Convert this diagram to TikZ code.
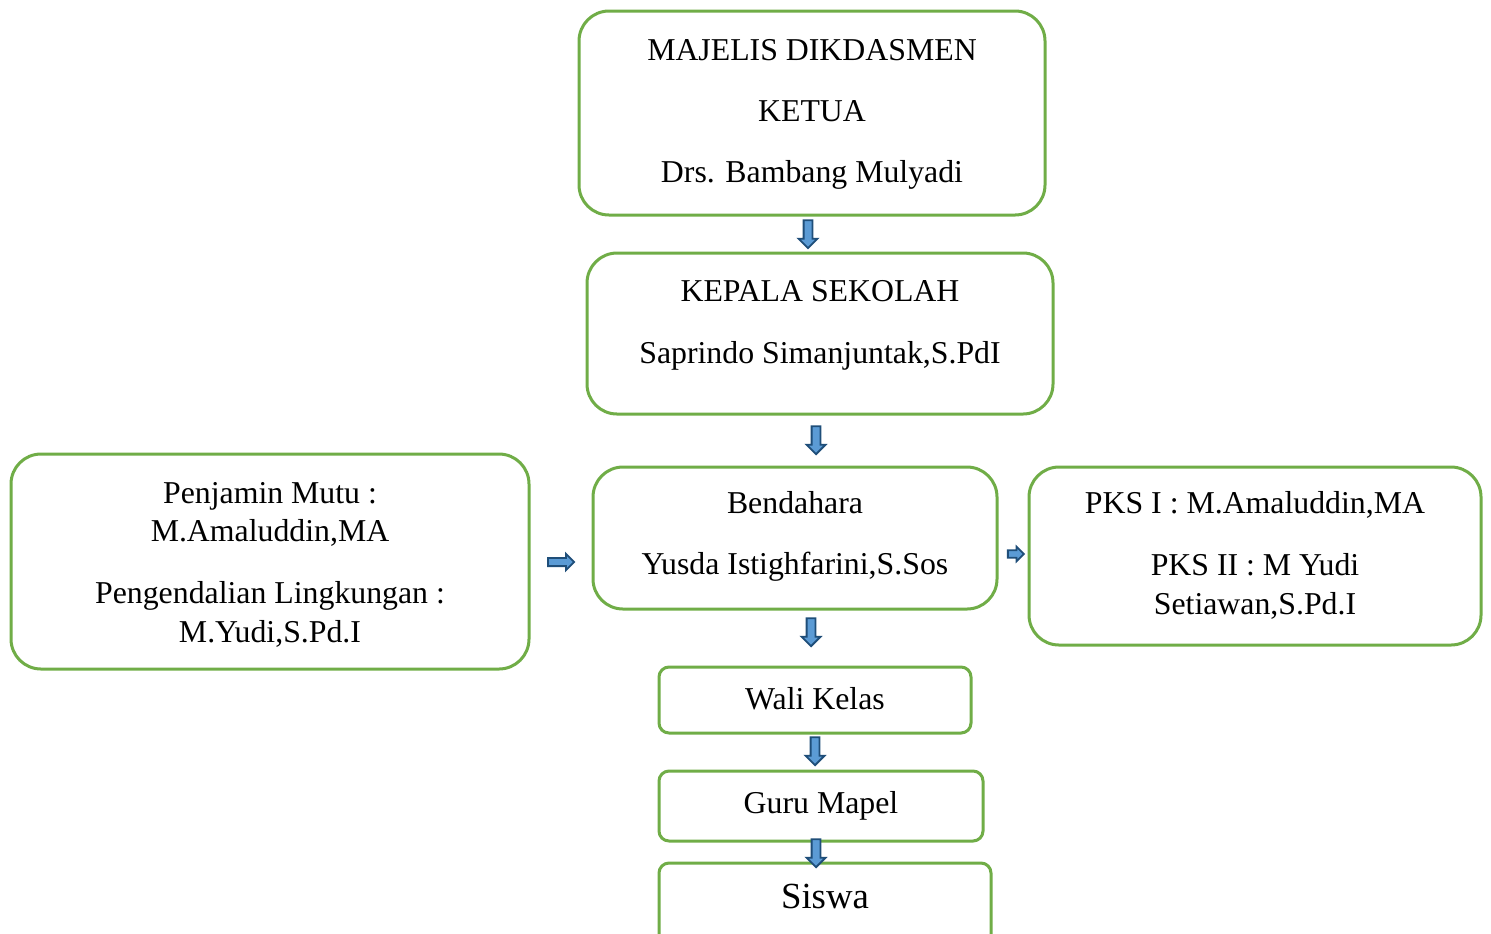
\documentclass[tikz,border=0pt]{standalone}
\usepackage{fontspec}
\setmainfont{Liberation Serif}
\usetikzlibrary{shapes.arrows}
\definecolor{boxgreen}{HTML}{70AD47}
\definecolor{arrfill}{HTML}{5B9BD5}
\definecolor{arrline}{HTML}{1F4E79}
\tikzset{
  orgbox/.style={draw=boxgreen, line width=1.5pt, fill=white, rounded corners=15pt, inner sep=0pt},
  smallbox/.style={orgbox, rounded corners=5pt},
  lbl/.style={inner sep=0pt, yshift=-3pt, font=\fontsize{15.9}{19}\selectfont, text height=0.7em, text depth=0.22em},
  blockarrow/.style={single arrow, draw=arrline, fill=arrfill, line width=0.9pt, inner sep=1.75pt,
     single arrow head extend=2.5pt, minimum height=14pt},
  rarrow/.style={blockarrow, inner sep=1.6pt, single arrow head extend=2pt}
}
\begin{document}
\begin{tikzpicture}[x=0.5pt,y=-0.5pt]
\useasboundingbox (0,0) rectangle (1491,933);
\clip (0,0) rectangle (1491,933);
% boxes
\node[orgbox, minimum width=233pt, minimum height=102pt] (majelis) at (812,113) {};
\node[orgbox, minimum width=233pt, minimum height=80.5pt] (kepala) at (820,333.5) {};
\node[orgbox, minimum width=259pt, minimum height=107.5pt] (penjamin) at (270,561.5) {};
\node[orgbox, minimum width=202pt, minimum height=71pt] (bendahara) at (795,538) {};
\node[orgbox, minimum width=226pt, minimum height=89pt] (pks) at (1255,556) {};
\node[smallbox, minimum width=156pt, minimum height=33pt] (wali) at (815,700) {};
\node[smallbox, minimum width=162pt, minimum height=35pt] (guru) at (821,806) {};
\node[smallbox, minimum width=166pt, minimum height=41pt] (siswa) at (825,904) {};
% texts
\node[lbl] (t1a) at (812,50) {MAJELIS DIKDASMEN};
\node[lbl] (t1b) at (812,111) {KETUA};
\node[lbl] (t1c) at (812,172) {Drs. Bambang Mulyadi};
\node[lbl] (t2a) at (820,291) {KEPALA SEKOLAH};
\node[lbl] (t2b) at (820,353) {Saprindo Simanjuntak,S.PdI};
\node[lbl] (t3a) at (270,493) {Penjamin Mutu :};
\node[lbl] (t3b) at (270,531) {M.Amaluddin,MA};
\node[lbl] (t3c) at (270,593) {Pengendalian Lingkungan :};
\node[lbl] (t3d) at (270,632) {M.Yudi,S.Pd.I};
\node[lbl] (t4a) at (795,503) {Bendahara};
\node[lbl] (t4b) at (795,564) {Yusda Istighfarini,S.Sos};
\node[lbl] (t5a) at (1255,503) {PKS I : M.Amaluddin,MA};
\node[lbl] (t5b) at (1255,565) {PKS II : M Yudi};
\node[lbl] (t5c) at (1255,604) {Setiawan,S.Pd.I};
\node[lbl] (t6) at (815,699) {Wali Kelas};
\node[lbl] (t7) at (821,803) {Guru Mapel};
\node[lbl, font=\fontsize{18.4}{22}\selectfont] (t8) at (825,898) {Siswa};
% arrows
\node[blockarrow, rotate=-90] (a1) at (808,232) {};
\node[blockarrow, rotate=-90] (a2) at (816,438) {};
\node[rarrow, minimum height=13pt] (a3) at (559,562) {};
\node[rarrow, minimum height=8pt, inner sep=1.4pt, single arrow head extend=1.8pt] (a4) at (1014,554) {};
\node[blockarrow, rotate=-90] (a5) at (811,630) {};
\node[blockarrow, rotate=-90] (a6) at (815,749) {};
\node[blockarrow, rotate=-90] (a7) at (816,851) {};
\end{tikzpicture}
\end{document}
